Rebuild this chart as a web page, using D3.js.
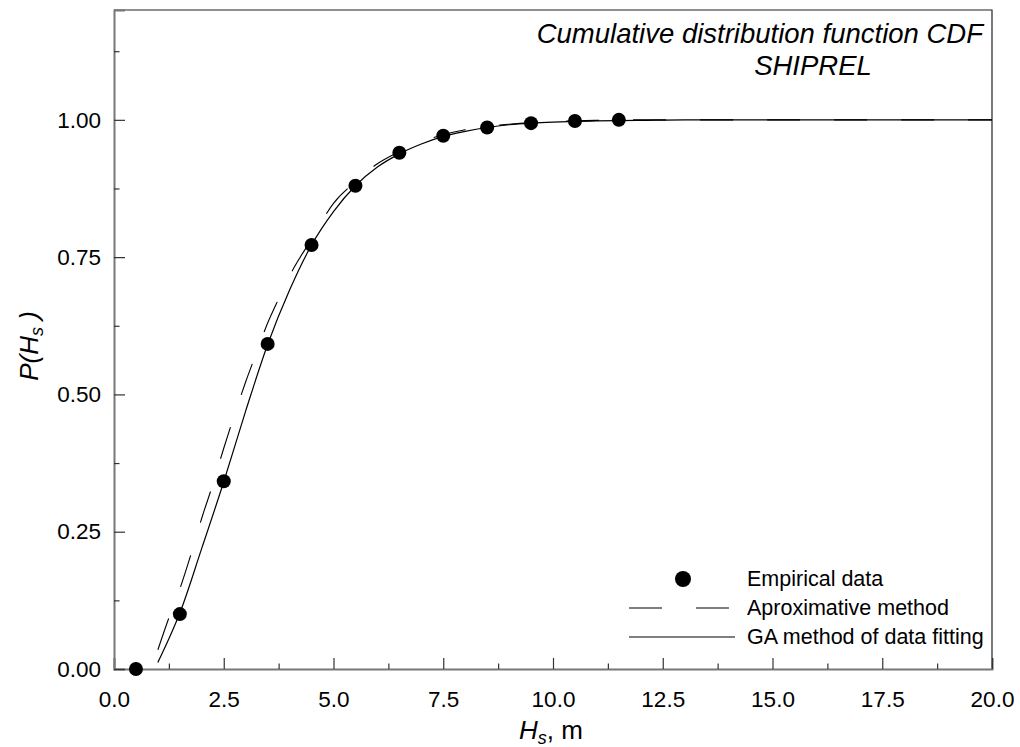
<!DOCTYPE html>
<html>
<head>
<meta charset="utf-8">
<script src="https://cdn.jsdelivr.net/npm/d3@7"></script>
<style>
  body { margin: 0; background: #fff; }
  svg { display: block; font-family: Arial, "Liberation Sans", sans-serif; }
</style>
</head>
<body>
<div id="chart"></div>
<script>
// empirical points
var hs = [0.5, 1.5, 2.5, 3.5, 4.5, 5.5, 6.5, 7.5, 8.5, 9.5, 10.5, 11.5];
var empirical = [0.0, 0.10, 0.342, 0.592, 0.772, 0.880, 0.940, 0.971, 0.986, 0.994, 0.998, 1.0];

// GA fitted curve (solid)
var gaX = [1.0, 1.25, 1.5, 2.0, 2.5, 3.0, 3.5, 4.0, 4.5, 5.0, 5.5, 6.0, 6.5, 7.0, 7.5, 8.0, 8.5, 9.0, 9.5, 10.0, 11.0, 12.0, 13.0, 20.0];
var gaY = [0.012, 0.055, 0.102, 0.220, 0.341, 0.470, 0.591, 0.690, 0.772, 0.833, 0.880, 0.914, 0.938, 0.956, 0.970, 0.979, 0.986, 0.991, 0.994, 0.996, 0.998, 0.999, 1.0, 1.0];

// approximative method (dashed)
var apX = [1.0, 1.25, 1.5, 1.75, 2.0, 2.25, 2.5, 2.75, 3.0, 3.25, 3.5, 3.75, 4.0, 4.5, 5.0, 5.5, 6.0, 6.5, 7.0, 7.5, 8.0, 8.5, 9.0, 9.5, 10.0, 11.0, 12.0, 20.0];
var apY = [0.035, 0.093, 0.146, 0.208, 0.275, 0.336, 0.402, 0.464, 0.523, 0.577, 0.630, 0.674, 0.716, 0.783, 0.848, 0.887, 0.920, 0.942, 0.960, 0.973, 0.982, 0.988, 0.992, 0.995, 0.997, 0.999, 1.0, 1.0];

var xTicks = [0, 2.5, 5, 7.5, 10, 12.5, 15, 17.5, 20];
var xMinor = [1.25, 3.75, 6.25, 8.75, 11.25, 13.75, 16.25, 18.75];
var yTicks = [0, 0.25, 0.5, 0.75, 1.0];
var yMinor = [0.125, 0.375, 0.625, 0.875, 1.125];

var legendLabels = ["Empirical data", "Aproximative method", "GA method of data fitting"];

var width = 1020, height = 747;
var plotL = 114, plotR = 992, plotT = 10, plotB = 669;

var x = d3.scaleLinear().domain([0, 20]).range([plotL, plotR]);
var y = d3.scaleLinear().domain([0, 1.2]).range([plotB, plotT]);

var svg = d3.select("#chart").append("svg")
    .attr("width", width)
    .attr("height", height);

svg.append("clipPath").attr("id", "clip")
  .append("rect")
    .attr("x", plotL).attr("y", plotT)
    .attr("width", plotR - plotL).attr("height", plotB - plotT);

// frame (top + right)
svg.append("path")
    .attr("d", "M" + plotL + "," + plotT + "H" + plotR + "V" + plotB)
    .attr("fill", "none")
    .attr("stroke", "#222")
    .attr("stroke-width", 1.2);

// axes
var xAxis = svg.append("g")
    .attr("transform", "translate(0," + plotB + ")")
    .call(d3.axisBottom(x).tickValues(xTicks).tickSize(-11).tickPadding(22)
      .tickFormat(d3.format(".1f")));
svg.append("g")
    .attr("transform", "translate(0," + plotB + ")")
    .call(d3.axisBottom(x).tickValues(xMinor).tickSize(-5.5).tickFormat(""))
    .select(".domain").remove();

var yAxis = svg.append("g")
    .attr("transform", "translate(" + plotL + ",0)")
    .call(d3.axisLeft(y).tickValues(yTicks).tickSize(-11).tickPadding(13)
      .tickFormat(d3.format(".2f")));
svg.append("g")
    .attr("transform", "translate(" + plotL + ",0)")
    .call(d3.axisLeft(y).tickValues(yMinor).tickSize(-5.5).tickFormat(""))
    .select(".domain").remove();

svg.selectAll(".domain").attr("stroke", "#777").attr("stroke-width", 2);
svg.selectAll(".tick line").attr("stroke", "#333").attr("stroke-width", 1.2);
svg.selectAll(".tick text")
    .attr("font-size", 22.5)
    .attr("fill", "#000")
    .attr("font-family", "Arial, 'Liberation Sans', sans-serif");

// curves
var line = d3.line()
    .x(function (d) { return x(d[0]); })
    .y(function (d) { return y(d[1]); })
    .curve(d3.curveMonotoneX);

var plot = svg.append("g").attr("clip-path", "url(#clip)");

plot.append("path")
    .datum(d3.zip(apX, apY))
    .attr("d", line)
    .attr("fill", "none")
    .attr("stroke", "#000")
    .attr("stroke-width", 1.1)
    .attr("stroke-dasharray", "33,34");

plot.append("path")
    .datum(d3.zip(gaX, gaY))
    .attr("d", line)
    .attr("fill", "none")
    .attr("stroke", "#000")
    .attr("stroke-width", 1.2);

svg.append("g").selectAll("circle")
    .data(d3.zip(hs, empirical))
    .enter().append("circle")
    .attr("cx", function (d) { return x(d[0]); })
    .attr("cy", function (d) { return y(d[1]); })
    .attr("r", 7)
    .attr("fill", "#000");

// title
var title = svg.append("g")
    .attr("font-style", "italic")
    .attr("font-size", 27.5);
title.append("text")
    .attr("x", 983).attr("y", 43)
    .attr("text-anchor", "end")
    .text("Cumulative distribution function CDF");
title.append("text")
    .attr("x", 813).attr("y", 75)
    .attr("text-anchor", "middle")
    .text("SHIPREL");

// axis labels
var xl = svg.append("text")
    .attr("x", 551).attr("y", 739)
    .attr("text-anchor", "middle")
    .attr("font-size", 26);
xl.append("tspan").attr("font-style", "italic").text("H");
xl.append("tspan").attr("font-style", "italic").attr("font-size", 18)
    .attr("baseline-shift", "-30%").text("s");
xl.append("tspan").text(", m");

var yl = svg.append("text")
    .attr("transform", "translate(38,346) rotate(-90)")
    .attr("text-anchor", "middle")
    .attr("font-style", "italic")
    .attr("font-size", 26);
yl.append("tspan").text("P(H");
yl.append("tspan").attr("font-size", 18).attr("baseline-shift", "-30%").text("s");
yl.append("tspan").text(" )");

// legend
var lg = svg.append("g").attr("font-size", 21.5);
var rows = [579, 608, 637];

lg.append("circle")
    .attr("cx", 683).attr("cy", rows[0]).attr("r", 8).attr("fill", "#000");
lg.append("line")
    .attr("x1", 629).attr("x2", 729).attr("y1", rows[1]).attr("y2", rows[1])
    .attr("stroke", "#000").attr("stroke-width", 1.1)
    .attr("stroke-dasharray", "33,34");
lg.append("line")
    .attr("x1", 629).attr("x2", 735).attr("y1", rows[2]).attr("y2", rows[2])
    .attr("stroke", "#000").attr("stroke-width", 1.2);

lg.selectAll("text.lbl")
    .data(legendLabels)
    .enter().append("text")
    .attr("class", "lbl")
    .attr("x", 747)
    .attr("y", function (d, i) { return rows[i] + 7; })
    .text(function (d) { return d; });
</script>
</body>
</html>
